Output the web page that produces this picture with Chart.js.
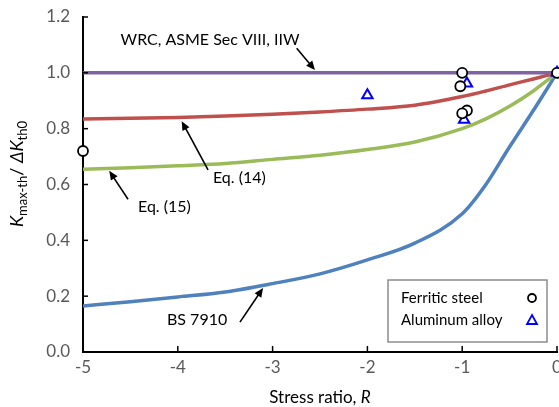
<!DOCTYPE html>
<html>
<head>
<meta charset="utf-8">
<script src="https://cdn.jsdelivr.net/npm/chart.js@4/dist/chart.umd.min.js"></script>
<style>
  body { margin: 0; background: #fff; }
  canvas { display: block; }
</style>
</head>
<body>
<canvas id="myChart" width="559" height="407"></canvas>
<script>

// stress ratio R for the curves
const rValues = [-5, -4.5, -4, -3.5, -3, -2.5, -2, -1.5, -1, -0.75, -0.5, -0.25, 0];

// WRC, ASME Sec VIII, IIW
const wrc = [1, 1, 1, 1, 1, 1, 1, 1, 1, 1, 1, 1, 1];
// Eq. (14)
const eq14 = [0.835, 0.837, 0.84, 0.845, 0.852, 0.86, 0.87, 0.884, 0.915, 0.935, 0.957, 0.978, 1.0];
// Eq. (15)
const eq15 = [0.655, 0.66, 0.667, 0.675, 0.69, 0.705, 0.725, 0.752, 0.8, 0.835, 0.88, 0.935, 1.0];
// BS 7910
const bs7910 = [0.165, 0.18, 0.197, 0.215, 0.245, 0.28, 0.33, 0.39, 0.495, 0.6, 0.735, 0.865, 1.0];

// test data
const ferriticR = [-5, -1, -1.02, -0.95, -1.0, 0];
const ferriticK = [0.72, 1.0, 0.952, 0.865, 0.855, 1.0];
const aluminumR = [-2, -0.95, -0.98, 0];
const aluminumK = [0.92, 0.962, 0.832, 1.0];

const xTicks = [-5, -4, -3, -2, -1, 0];
const yTicks = [0, 0.2, 0.4, 0.6, 0.8, 1.0, 1.2];

// text labels with arrows (data coordinates)
const notes = [
  { text: 'WRC, ASME Sec VIII, IIW', x: -3.66, y: 1.117, align: 'center', from: [-2.746, 1.088], to: [-2.553, 1.01] },
  { text: 'Eq. (14)', x: -3.629, y: 0.623, align: 'left', from: [-3.681, 0.652], to: [-3.959, 0.827] },
  { text: 'Eq. (15)', x: -4.42, y: 0.519, align: 'left', from: [-4.525, 0.547], to: [-4.723, 0.649] },
  { text: 'BS 7910', x: -4.114, y: 0.115, align: 'left', from: [-3.344, 0.107], to: [-3.101, 0.229] }
];

const FONT = 'Lato, "Open Sans", sans-serif';

function pts(xs, ys) {
  return xs.map((x, i) => ({ x: x, y: ys[i] }));
}

function arrow(ctx, x1, y1, x2, y2) {
  const a = Math.atan2(y2 - y1, x2 - x1);
  const len = 9, w = 4;
  ctx.beginPath();
  ctx.moveTo(x1, y1);
  ctx.lineTo(x2 - Math.cos(a) * len * 0.7, y2 - Math.sin(a) * len * 0.7);
  ctx.stroke();
  ctx.beginPath();
  ctx.moveTo(x2, y2);
  ctx.lineTo(x2 - Math.cos(a) * len - Math.sin(a) * w, y2 - Math.sin(a) * len + Math.cos(a) * w);
  ctx.lineTo(x2 - Math.cos(a) * len + Math.sin(a) * w, y2 - Math.sin(a) * len - Math.cos(a) * w);
  ctx.closePath();
  ctx.fill();
}

// draw pieces of text with different fonts in a row
function richText(ctx, parts, cx, cy) {
  let total = 0;
  parts.forEach(p => { ctx.font = p.font; p.w = ctx.measureText(p.t).width; total += p.w; });
  let x = cx - total / 2;
  parts.forEach(p => {
    ctx.font = p.font;
    ctx.fillText(p.t, x, cy + (p.dy || 0));
    x += p.w;
  });
}

const extras = {
  id: 'extras',
  afterDraw(chart) {
    const ctx = chart.ctx;
    const xs = chart.scales.x, ys = chart.scales.y;
    const area = chart.chartArea;
    ctx.save();

    // inward tick marks
    ctx.strokeStyle = '#000';
    ctx.lineWidth = 1.5;
    xTicks.forEach(v => {
      const px = xs.getPixelForValue(v);
      ctx.beginPath();
      ctx.moveTo(px, area.bottom);
      ctx.lineTo(px, area.bottom - 6);
      ctx.stroke();
    });
    yTicks.forEach(v => {
      const py = ys.getPixelForValue(v);
      ctx.beginPath();
      ctx.moveTo(area.left, py);
      ctx.lineTo(area.left + 5, py);
      ctx.stroke();
    });

    // notes and arrows
    ctx.fillStyle = '#000';
    ctx.strokeStyle = '#000';
    ctx.lineWidth = 1.6;
    ctx.font = '16px ' + FONT;
    ctx.textBaseline = 'middle';
    notes.forEach(n => {
      ctx.textAlign = n.align;
      ctx.fillText(n.text, xs.getPixelForValue(n.x), ys.getPixelForValue(n.y));
      arrow(ctx,
        xs.getPixelForValue(n.from[0]), ys.getPixelForValue(n.from[1]),
        xs.getPixelForValue(n.to[0]), ys.getPixelForValue(n.to[1]));
    });

    // legend box
    const bw = 159, bh = 62;
    const bx = area.right - 10 - bw, by = area.bottom - 10 - bh;
    ctx.fillStyle = '#fff';
    ctx.fillRect(bx, by, bw, bh);
    ctx.strokeStyle = '#8c8c8c';
    ctx.lineWidth = 1.5;
    ctx.strokeRect(bx, by, bw, bh);
    ctx.fillStyle = '#000';
    ctx.textAlign = 'left';
    ctx.font = '15px ' + FONT;
    ctx.fillText('Ferritic steel', bx + 13, by + 18);
    ctx.fillText('Aluminum alloy', bx + 13, by + 40);
    const mx = bx + 144;
    ctx.lineWidth = 1.8;
    ctx.strokeStyle = '#000';
    ctx.beginPath();
    ctx.arc(mx, by + 18, 4, 0, Math.PI * 2);
    ctx.stroke();
    ctx.strokeStyle = '#0000ff';
    ctx.beginPath();
    ctx.moveTo(mx, by + 35);
    ctx.lineTo(mx + 5, by + 44);
    ctx.lineTo(mx - 5, by + 44);
    ctx.closePath();
    ctx.stroke();

    // axis titles
    ctx.fillStyle = '#000';
    ctx.textAlign = 'left';
    ctx.textBaseline = 'alphabetic';
    richText(ctx, [
      { t: 'Stress ratio, ', font: '17px ' + FONT },
      { t: 'R', font: 'italic 17px ' + FONT }
    ], (area.left + area.right) / 2, 403);

    ctx.translate(23, 174);
    ctx.rotate(-Math.PI / 2);
    richText(ctx, [
      { t: 'K', font: 'italic 18px ' + FONT },
      { t: 'max-th', font: '13px ' + FONT, dy: 4 },
      { t: '/ ', font: '18px ' + FONT },
      { t: 'ΔK', font: 'italic 18px ' + FONT },
      { t: 'th0', font: '13px ' + FONT, dy: 4 }
    ], 0, 0);

    ctx.restore();
  }
};

const lineStyle = { borderWidth: 3.5, pointRadius: 0, fill: false, cubicInterpolationMode: 'monotone' };

const chart = new Chart(document.getElementById('myChart').getContext('2d'), {
  type: 'line',
  data: {
    datasets: [
      {
        label: 'Ferritic steel',
        data: pts(ferriticR, ferriticK),
        showLine: false,
        pointStyle: 'circle',
        pointRadius: 5,
        pointBorderWidth: 1.8,
        pointBorderColor: '#000',
        pointBackgroundColor: '#fff',
        clip: false
      },
      {
        label: 'Aluminum alloy',
        data: pts(aluminumR, aluminumK),
        showLine: false,
        pointStyle: 'triangle',
        pointRadius: 6,
        pointBorderWidth: 2,
        pointBorderColor: '#0000ff',
        pointBackgroundColor: '#fff',
        clip: false
      },
      Object.assign({ label: 'WRC, ASME Sec VIII, IIW', data: pts(rValues, wrc), borderColor: '#8064a2' }, lineStyle),
      Object.assign({ label: 'Eq. (14)', data: pts(rValues, eq14), borderColor: '#c0504d' }, lineStyle),
      Object.assign({ label: 'Eq. (15)', data: pts(rValues, eq15), borderColor: '#9bbb59' }, lineStyle),
      Object.assign({ label: 'BS 7910', data: pts(rValues, bs7910), borderColor: '#4f81bd' }, lineStyle)
    ]
  },
  options: {
    responsive: false,
    animation: false,
    layout: { autoPadding: false, padding: { top: 17, right: 2, left: 0, bottom: 0 } },
    plugins: {
      legend: { display: false },
      tooltip: { enabled: false }
    },
    scales: {
      x: {
        type: 'linear',
        min: -5,
        max: 0,
        afterFit: s => { s.height = 55; s.paddingLeft = 0; s.paddingRight = 0; },
        afterBuildTicks: s => { s.ticks = xTicks.map(v => ({ value: v })); },
        ticks: {
          color: '#595959',
          font: { family: FONT, size: 17 },
          padding: 5,
          maxRotation: 0,
          callback: v => String(v)
        },
        grid: { display: true, drawOnChartArea: false, drawTicks: false },
        border: { color: '#000', width: 2 }
      },
      y: {
        min: 0,
        max: 1.2,
        afterFit: s => { s.width = 83; s.paddingTop = 0; s.paddingBottom = 0; },
        afterBuildTicks: s => { s.ticks = yTicks.map(v => ({ value: v })); },
        ticks: {
          color: '#595959',
          font: { family: FONT, size: 17 },
          padding: 13,
          callback: v => v.toFixed(1)
        },
        grid: { display: true, drawOnChartArea: false, drawTicks: false },
        border: { color: '#000', width: 2 }
      }
    }
  },
  plugins: [extras]
});
</script>
</body>
</html>
